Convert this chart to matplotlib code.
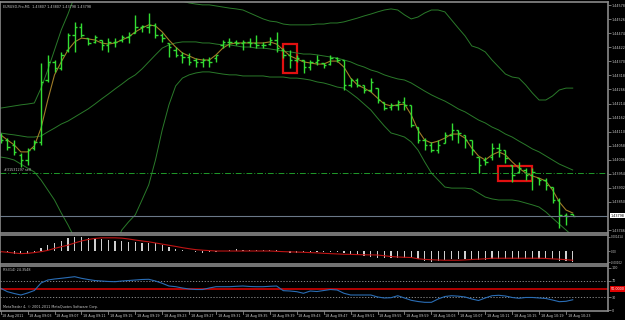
import matplotlib
matplotlib.use("Agg")
import matplotlib.pyplot as plt
import matplotlib.transforms as mtransforms
from matplotlib.patches import Rectangle
import numpy as np

# EURUSD-Pro M1, 18 Aug 2011 - bar 0 is 08:59
opens = [1.44098, 1.44079, 1.44061, 1.44024, 1.44005, 1.44049, 1.44072, 1.44301, 1.44368, 1.44345,
         1.44412, 1.44468, 1.44497, 1.44456, 1.44442, 1.44449, 1.44431, 1.44442, 1.44449, 1.44460,
         1.44475, 1.44497, 1.44497, 1.44505, 1.44468, 1.44438, 1.44412, 1.44394, 1.44386, 1.44375,
         1.44368, 1.44375, 1.44382, 1.44431, 1.44442, 1.44442, 1.44438, 1.44442, 1.44438, 1.44431,
         1.44434, 1.44449, 1.44412, 1.44394, 1.44375, 1.44375, 1.44349, 1.44368, 1.44364, 1.44360,
         1.44382, 1.44375, 1.44283, 1.44301, 1.44283, 1.44264, 1.44271, 1.44220, 1.44201, 1.44209,
         1.44220, 1.44209, 1.44127, 1.44079, 1.44061, 1.44042, 1.44068, 1.44098, 1.44116, 1.44098,
         1.44079, 1.44016, 1.44005, 1.44016, 1.44049, 1.44042, 1.43987, 1.43961, 1.43968, 1.43950,
         1.43938, 1.43931, 1.43905, 1.43857, 1.43802, 1.43807]
highs = [1.44105, 1.44086, 1.44079, 1.44031, 1.44049, 1.44079, 1.44364, 1.44394, 1.44375, 1.44405,
         1.44475, 1.44516, 1.44512, 1.44456, 1.44468, 1.44449, 1.44456, 1.44456, 1.44468, 1.44479,
         1.44542, 1.44505, 1.44549, 1.44512, 1.44475, 1.44438, 1.44423, 1.44405, 1.44401, 1.44382,
         1.44382, 1.44386, 1.44394, 1.44449, 1.44456, 1.44449, 1.44449, 1.44456, 1.44468, 1.44442,
         1.44460, 1.44479, 1.44419, 1.44412, 1.44394, 1.44375, 1.44375, 1.44394, 1.44364, 1.44394,
         1.44386, 1.44375, 1.44308, 1.44308, 1.44283, 1.44308, 1.44271, 1.44220, 1.44216, 1.44227,
         1.44238, 1.44209, 1.44127, 1.44086, 1.44072, 1.44079, 1.44109, 1.44142, 1.44116, 1.44098,
         1.44079, 1.44016, 1.44016, 1.44068, 1.44068, 1.44042, 1.43987, 1.43998, 1.43975, 1.43975,
         1.43938, 1.43938, 1.43905, 1.43864, 1.43809, 1.43807]
lows = [1.44068, 1.44042, 1.44024, 1.43979, 1.43987, 1.44042, 1.44061, 1.44294, 1.44331, 1.44338,
        1.44405, 1.44405, 1.44460, 1.44431, 1.44438, 1.44412, 1.44405, 1.44423, 1.44442, 1.44438,
        1.44475, 1.44479, 1.44475, 1.44456, 1.44442, 1.44386, 1.44386, 1.44364, 1.44357, 1.44349,
        1.44349, 1.44349, 1.44368, 1.44419, 1.44423, 1.44431, 1.44412, 1.44423, 1.44419, 1.44419,
        1.44431, 1.44405, 1.44382, 1.44345, 1.44368, 1.44327, 1.44338, 1.44357, 1.44345, 1.44357,
        1.44368, 1.44264, 1.44275, 1.44275, 1.44253, 1.44257, 1.44216, 1.44190, 1.44190, 1.44190,
        1.44190, 1.44127, 1.44068, 1.44042, 1.44035, 1.44031, 1.44068, 1.44079, 1.44068, 1.44049,
        1.44024, 1.43957, 1.43987, 1.44005, 1.44016, 1.43994, 1.43924, 1.43957, 1.43931, 1.43894,
        1.43913, 1.43894, 1.43846, 1.43753, 1.43765, 1.43798]
closes = [1.44079, 1.44053, 1.44035, 1.44005, 1.44042, 1.44072, 1.44294, 1.44368, 1.44345, 1.44394,
          1.44468, 1.44497, 1.44468, 1.44438, 1.44460, 1.44431, 1.44442, 1.44442, 1.44460, 1.44468,
          1.44497, 1.44501, 1.44505, 1.44468, 1.44456, 1.44423, 1.44394, 1.44386, 1.44368, 1.44368,
          1.44375, 1.44368, 1.44394, 1.44442, 1.44442, 1.44438, 1.44442, 1.44438, 1.44431, 1.44431,
          1.44449, 1.44419, 1.44394, 1.44375, 1.44382, 1.44349, 1.44368, 1.44375, 1.44357, 1.44382,
          1.44375, 1.44283, 1.44301, 1.44283, 1.44264, 1.44294, 1.44227, 1.44197, 1.44209, 1.44220,
          1.44209, 1.44135, 1.44079, 1.44061, 1.44042, 1.44061, 1.44098, 1.44116, 1.44105, 1.44079,
          1.44042, 1.43987, 1.43998, 1.44049, 1.44042, 1.44012, 1.43950, 1.43975, 1.43950, 1.43961,
          1.43931, 1.43913, 1.43857, 1.43802, 1.43798, 1.43798]

# short moving average (brown line)
ma = [1.44098, 1.44079, 1.44061, 1.44035, 1.44035, 1.44057, 1.44123, 1.44227, 1.44320, 1.44368,
      1.44412, 1.44442, 1.44456, 1.44453, 1.44449, 1.44438, 1.44434, 1.44438, 1.44449, 1.44460,
      1.44479, 1.44493, 1.44505, 1.44501, 1.44479, 1.44449, 1.44423, 1.44401, 1.44390, 1.44379,
      1.44375, 1.44375, 1.44394, 1.44419, 1.44434, 1.44438, 1.44438, 1.44438, 1.44438, 1.44438,
      1.44442, 1.44434, 1.44412, 1.44390, 1.44379, 1.44368, 1.44364, 1.44360, 1.44360, 1.44371,
      1.44371, 1.44349, 1.44308, 1.44283, 1.44271, 1.44257, 1.44234, 1.44212, 1.44205, 1.44209,
      1.44212, 1.44172, 1.44116, 1.44079, 1.44068, 1.44075, 1.44086, 1.44101, 1.44101, 1.44086,
      1.44049, 1.44020, 1.44005, 1.44024, 1.44035, 1.44024, 1.43998, 1.43975, 1.43957, 1.43946,
      1.43938, 1.43927, 1.43894, 1.43850, 1.43820, 1.43809]

# Bollinger bands
bb_upper = [1.44197, 1.44201, 1.44205, 1.44209, 1.44212, 1.44216, 1.44271, 1.44338, 1.44412, 1.44486,
            1.44545, 1.44612, 1.44653, 1.44690, 1.44715, 1.44734, 1.44745, 1.44745, 1.44738, 1.44723,
            1.44708, 1.44693, 1.44678, 1.44660, 1.44641, 1.44623, 1.44608, 1.44593, 1.44586, 1.44582,
            1.44579, 1.44579, 1.44575, 1.44571, 1.44567, 1.44564, 1.44560, 1.44549, 1.44538, 1.44527,
            1.44519, 1.44516, 1.44508, 1.44505, 1.44505, 1.44505, 1.44505, 1.44508, 1.44508, 1.44512,
            1.44512, 1.44516, 1.44523, 1.44530, 1.44538, 1.44545, 1.44553, 1.44560, 1.44564, 1.44560,
            1.44542, 1.44527, 1.44534, 1.44549, 1.44560, 1.44560, 1.44553, 1.44523, 1.44493, 1.44464,
            1.44427, 1.44419, 1.44405, 1.44375, 1.44349, 1.44323, 1.44312, 1.44308, 1.44283, 1.44253,
            1.44227, 1.44227, 1.44242, 1.44264, 1.44271, 1.44271]
bb_mid = [1.44105, 1.44101, 1.44098, 1.44094, 1.44090, 1.44090, 1.44094, 1.44109, 1.44123, 1.44138,
          1.44149, 1.44164, 1.44179, 1.44194, 1.44212, 1.44231, 1.44249, 1.44268, 1.44286, 1.44305,
          1.44320, 1.44342, 1.44368, 1.44394, 1.44419, 1.44431, 1.44438, 1.44442, 1.44442, 1.44442,
          1.44438, 1.44438, 1.44434, 1.44431, 1.44431, 1.44427, 1.44423, 1.44423, 1.44419, 1.44419,
          1.44416, 1.44412, 1.44408, 1.44405, 1.44401, 1.44397, 1.44397, 1.44394, 1.44390, 1.44386,
          1.44382, 1.44375, 1.44368, 1.44357, 1.44349, 1.44338, 1.44331, 1.44320, 1.44312, 1.44305,
          1.44301, 1.44290, 1.44275, 1.44260, 1.44246, 1.44234, 1.44223, 1.44209, 1.44194, 1.44183,
          1.44168, 1.44153, 1.44142, 1.44127, 1.44116, 1.44101, 1.44090, 1.44075, 1.44061, 1.44046,
          1.44035, 1.44020, 1.44005, 1.43990, 1.43979, 1.43968]
bb_lower = [1.44016, 1.44012, 1.44005, 1.43990, 1.43975, 1.43961, 1.43931, 1.43894, 1.43857, 1.43809,
            1.43765, 1.43716, 1.43672, 1.43642, 1.43620, 1.43605, 1.43635, 1.43691, 1.43746, 1.43776,
            1.43802, 1.43857, 1.43913, 1.44005, 1.44116, 1.44209, 1.44279, 1.44308, 1.44320, 1.44327,
            1.44331, 1.44331, 1.44327, 1.44323, 1.44320, 1.44320, 1.44316, 1.44316, 1.44316, 1.44316,
            1.44312, 1.44312, 1.44312, 1.44308, 1.44308, 1.44305, 1.44301, 1.44294, 1.44290, 1.44283,
            1.44275, 1.44271, 1.44253, 1.44234, 1.44212, 1.44190, 1.44160, 1.44131, 1.44105, 1.44098,
            1.44090, 1.44072, 1.44042, 1.43998, 1.43957, 1.43931, 1.43905, 1.43901, 1.43901, 1.43901,
            1.43898, 1.43883, 1.43868, 1.43861, 1.43857, 1.43857, 1.43857, 1.43853, 1.43846, 1.43839,
            1.43831, 1.43813, 1.43790, 1.43768, 1.43746, 1.43724]

macd_hist = [-0.00019, -0.00009, -0.00024, -0.00028, -0.00028, -0.00019, 0.00028, 0.00057, 0.00080, 0.00094,
             0.00127, 0.001414, 0.00138, 0.00130, 0.00124, 0.00118, 0.00110, 0.00101, 0.00095, 0.00090,
             0.00090, 0.00082, 0.00082, 0.00075, 0.00059, 0.00041, 0.00024, 0.00009, 0.00003, -0.00009,
             -0.00012, -0.00009, -0.00003, 0.00005, 0.00009, 0.00019, 0.00016, 0.00016, 0.00014, 0.00014,
             0.00012, 0.00009, 0.00005, -0.00019, -0.00019, -0.00009, -0.00005, -0.00009, -0.00009, -0.00005,
             -0.00005, -0.00014, -0.00028, -0.00035, -0.00044, -0.00050, -0.00059, -0.00059, -0.00059, -0.00059,
             -0.00059, -0.00066, -0.00075, -0.00091, -0.00098, -0.00094, -0.00085, -0.00075, -0.00073, -0.00073,
             -0.00075, -0.00085, -0.00085, -0.00075, -0.00073, -0.00073, -0.00075, -0.00073, -0.00073, -0.00073,
             -0.00073, -0.00075, -0.00078, -0.00091, -0.00091, -0.00102]
macd_signal = [-0.00003, -0.00009, -0.00016, -0.00022, -0.00019, -0.00012, -0.00003, 0.00009, 0.00028, 0.00044,
               0.00059, 0.00080, 0.00099, 0.00113, 0.00123, 0.00129, 0.00129, 0.00129, 0.00126, 0.00118,
               0.00108, 0.00099, 0.00091, 0.00080, 0.00069, 0.00058, 0.00047, 0.00035, 0.00025, 0.00016,
               0.00011, 0.00007, 0.00003, 0.00003, 0.00003, 0.00003, 0.00003, 0.00003, 0.00003, 0.00003,
               0.00003, 0.00000, -0.00003, -0.00005, -0.00007, -0.00009, -0.00012, -0.00015, -0.00019, -0.00022,
               -0.00025, -0.00028, -0.00029, -0.00031, -0.00033, -0.00034, -0.00035, -0.00042, -0.00050, -0.00054,
               -0.00057, -0.00059, -0.00071, -0.00077, -0.00080, -0.00083, -0.00085, -0.00085, -0.00085, -0.00082,
               -0.00078, -0.00075, -0.00071, -0.00066, -0.00066, -0.00066, -0.00066, -0.00066, -0.00066, -0.00066,
               -0.00066, -0.00068, -0.00072, -0.00075, -0.00080, -0.00085]

rsi = [51.7, 43.6, 39.3, 35.7, 40.5, 46.4, 64.3, 71.4, 73.8, 75.5,
       77.4, 79.3, 75.5, 72.6, 70.2, 69.0, 67.9, 67.4, 69.0, 70.2,
       71.4, 72.6, 73.1, 69.0, 63.6, 57.1, 55.5, 52.4, 50.0, 48.8,
       48.8, 52.4, 55.5, 55.5, 55.5, 56.4, 57.1, 56.0, 55.5, 55.5,
       56.4, 57.1, 46.0, 45.2, 43.6, 39.8, 45.2, 44.0, 46.4, 48.8,
       47.6, 39.8, 35.7, 35.7, 35.7, 35.7, 31.0, 28.6, 29.3, 34.0,
       28.6, 23.1, 20.2, 18.3, 18.3, 26.2, 32.1, 34.0, 32.9, 31.0,
       26.2, 22.6, 28.6, 34.0, 35.0, 33.3, 29.8, 27.9, 29.8, 29.8,
       28.6, 27.4, 23.8, 19.8, 20.7, 24.3548]

price_ticks = [1.44578, 1.44526, 1.44474, 1.44422, 1.44370, 1.44318, 1.44266, 1.44214, 1.44162,
               1.44110, 1.44058, 1.44006, 1.43954, 1.43902, 1.43850, 1.43746]
time_pos = [0, 4, 8, 12, 16, 20, 24, 28, 32, 36, 40, 44, 48, 52, 56, 60, 64, 68, 72, 76, 80, 84]
time_labels = ["18 Aug 2011", "18 Aug 09:03", "18 Aug 09:07", "18 Aug 09:11", "18 Aug 09:15",
               "18 Aug 09:19", "18 Aug 09:23", "18 Aug 09:27", "18 Aug 09:31", "18 Aug 09:35",
               "18 Aug 09:39", "18 Aug 09:43", "18 Aug 09:47", "18 Aug 09:51", "18 Aug 09:55",
               "18 Aug 09:59", "18 Aug 10:03", "18 Aug 10:07", "18 Aug 10:11", "18 Aug 10:15",
               "18 Aug 10:19", "18 Aug 10:23"]
bid = 1.43798
order_price = 1.43956
# highlighted areas: (bar from, bar to, price low, price high)
boxes = [(42.0, 44.0, 1.44327, 1.44434), (73.85, 78.9, 1.43927, 1.43983)]

W, H = 625, 320
BORDER = '#8a8a8a'
TXT = '#c8c8c8'
FS = 2.4


def px_box(x0, y0, x1, y1):
    return [x0 / W, 1 - y1 / H, (x1 - x0) / W, (y1 - y0) / H]


def style(a):
    a.set_facecolor('black')
    for s in a.spines.values():
        s.set_color(BORDER)
        s.set_linewidth(1.2)
    a.set_xlim(-0.1, 90.24)
    a.set_xticks([])
    a.yaxis.tick_right()
    a.tick_params(axis='y', length=2, width=0.6, color=BORDER, labelsize=FS,
                  labelcolor=TXT, pad=0.8)


fig = plt.figure(figsize=(6.25, 3.2), dpi=100, facecolor='black')
ax = fig.add_axes(px_box(0, 2, 608, 233))
ax_macd = fig.add_axes(px_box(0, 235, 608, 264))
ax_rsi = fig.add_axes(px_box(0, 266, 608, 311))
for a in (ax, ax_macd, ax_rsi):
    style(a)

x = np.arange(len(closes))

# main chart
ax.set_ylim(1.437349, 1.445896)
band_col = '#2a7a2a'
ax.plot(x, bb_upper, color=band_col, lw=0.7)
ax.plot(x, bb_mid, color=band_col, lw=0.7)
ax.plot(x, bb_lower, color=band_col, lw=0.7)
ax.plot(x, ma, color='#a07c28', lw=0.8)
bar_col = '#33dd33'
ax.vlines(x, lows, highs, color=bar_col, lw=1.0)
ax.hlines(opens, x - 0.35, x, color=bar_col, lw=1.0)
ax.hlines(closes, x, x + 0.35, color=bar_col, lw=1.0)

ax.axhline(order_price, color='#1f9a2a', lw=0.7, ls=(0, (6, 2, 1, 2)))
ax.text(0.5, order_price + 0.00004, "#31531297 sell", color=TXT, fontsize=FS, va='bottom')
ax.axhline(bid, color='#6b7888', lw=0.8)

for x0, x1, p0, p1 in boxes:
    ax.add_patch(Rectangle((x0, p0), x1 - x0, p1 - p0, fill=False, ec='#e01010', lw=1.6))

ax.set_yticks(price_ticks)
ax.set_yticklabels(["%.5f" % p for p in price_ticks])
ax.text(1.004, bid, "%.5f" % bid, transform=mtransforms.blended_transform_factory(ax.transAxes, ax.transData),
        fontsize=FS, color='black', va='center', ha='left',
        bbox=dict(boxstyle='square,pad=0.15', fc='white', ec='none'))
ax.text(0.005, 0.985, "EURUSD-Pro,M1  1.43807 1.43807 1.43798 1.43798", transform=ax.transAxes,
        color=TXT, fontsize=FS, va='top', ha='left')

# MACD
ax_macd.set_ylim(-0.00121, 0.00156)
ax_macd.bar(x, macd_hist, width=0.18, color='#cfcfcf')
ax_macd.plot(x, macd_signal, color='#c01414', lw=0.8)
ax_macd.set_yticks([0.001414, 0.0, -0.00102])
ax_macd.set_yticklabels(["0.001414", "0.00", "-0.00102"])
ax_macd.tick_params(axis='y', labelsize=2.0, pad=0.5, length=1.5)

# RSI
ax_rsi.set_ylim(-2.38, 104.76)
ax_rsi.axhline(70, color='#9a9a9a', lw=0.6, ls=(0, (1.5, 2)))
ax_rsi.axhline(30, color='#9a9a9a', lw=0.6, ls=(0, (1.5, 2)))
ax_rsi.axhline(50, color='#c00000', lw=1.3)
ax_rsi.plot(x, rsi, color='#2a6db5', lw=0.8)
ax_rsi.set_yticks([100, 70, 30, 0])
ax_rsi.set_yticklabels(["100", "70", "30", "0"])
ax_rsi.text(1.004, 50, "50.0000", transform=mtransforms.blended_transform_factory(ax_rsi.transAxes, ax_rsi.transData),
            fontsize=FS, color='white', va='center', ha='left',
            bbox=dict(boxstyle='square,pad=0.2', fc='#e00000', ec='none'))
ax_rsi.text(0.005, 0.95, "RSI(14) 24.3548", transform=ax_rsi.transAxes, color=TXT,
            fontsize=FS, va='top', ha='left')
ax_rsi.text(0.005, 0.04, "MetaTrader 4, \u00a9 2001-2011 MetaQuotes Software Corp.",
            transform=ax_rsi.transAxes, color=TXT, fontsize=FS, va='bottom', ha='left')

# time axis
tr = mtransforms.blended_transform_factory(ax_rsi.transData, fig.transFigure)
for pos, lab in zip(time_pos, time_labels):
    ax_rsi.plot([pos, pos], [1 - 311 / H, 1 - 314 / H], transform=tr, color=BORDER,
                lw=0.6, clip_on=False)
    ax_rsi.text(pos + 0.25, 1 - 316 / H, lab, transform=tr, color=TXT, fontsize=FS,
                va='center', ha='left', clip_on=False)

fig.savefig("out.png", dpi=100, facecolor='black')
